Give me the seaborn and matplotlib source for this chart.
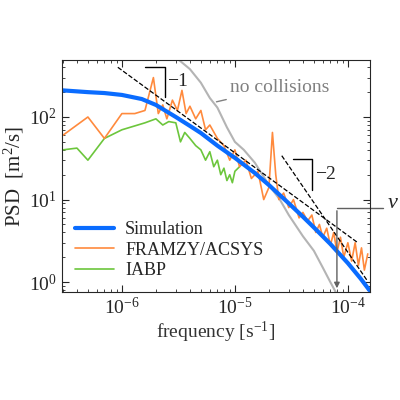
import numpy as np
import pandas as pd
import seaborn as sns
from matplotlib import pyplot as plt

sns.set_style('ticks')
plt.rcParams['font.family'] = ['Liberation Serif', 'DejaVu Serif']
plt.rcParams['mathtext.fontset'] = 'custom'
plt.rcParams['mathtext.rm'] = 'Liberation Serif'
plt.rcParams['mathtext.it'] = 'Liberation Serif:italic'

# Simulation
simFreq = [3e-7, 5e-7, 7e-7, 1e-6, 1.5e-6, 2e-6, 3e-6, 4e-6, 5e-6, 7e-6, 1e-5, 1.5e-5, 2e-5, 3e-5, 4e-5,
           5e-5, 7e-5, 1e-4, 1.3e-4, 1.55e-4]
simPsd = [210, 200, 195, 185, 165, 140, 100, 78, 64, 45, 32, 21, 15, 9, 6.2, 4.6, 2.9, 1.7, 1.1, 0.8]

# FRAMZY/ACSYS
frFreq = [3e-7, 5e-7, 7e-7, 1e-6, 1.3e-6, 1.6e-6, 1.9e-6, 2.1e-6, 2.3e-6, 2.5e-6, 2.8e-6, 3.1e-6, 3.4e-6,
          3.7e-6, 4e-6, 4.5e-6, 5e-6, 5.5e-6, 6e-6, 7e-6, 8e-6, 9e-6, 1e-5, 1.1e-5, 1.25e-5, 1.4e-5,
          1.6e-5, 1.8e-5, 2e-5, 2.15e-5, 2.3e-5, 2.45e-5, 2.7e-5, 3e-5, 3.3e-5, 3.7e-5, 4e-5, 4.4e-5,
          4.8e-5, 5.2e-5, 5.6e-5, 6e-5, 6.5e-5, 7e-5, 7.5e-5, 8e-5, 8.6e-5, 9.2e-5, 1e-4, 1.08e-4,
          1.16e-4, 1.24e-4, 1.32e-4, 1.4e-4, 1.5e-4]
frPsd = [60, 100, 55, 110, 110, 120, 300, 110, 140, 95, 160, 120, 210, 110, 135, 95, 120, 70, 80, 55,
         45, 30, 40, 25, 30, 18, 22, 10, 14, 65, 20, 10, 12, 8, 10, 6, 7, 5.5, 6.5, 4, 5, 3.5, 4.5, 2.8,
         4, 2.3, 3.5, 2, 3, 1.8, 3, 1.6, 2.6, 1.4, 2.2]

# IABP
ibFreq = [3e-7, 4e-7, 5e-7, 7e-7, 1e-6, 1.3e-6, 1.6e-6, 2e-6, 2.3e-6, 2.6e-6, 3e-6, 3.3e-6, 3.6e-6,
          4e-6, 4.5e-6, 5e-6, 5.5e-6, 6e-6, 6.5e-6, 7e-6, 7.5e-6, 8e-6, 8.5e-6, 9e-6, 9.5e-6, 1e-5, 1.1e-5]
ibPsd = [40, 42, 30, 55, 70, 78, 85, 95, 80, 88, 85, 50, 65, 55, 45, 40, 30, 38, 25, 30, 20, 24, 17, 20,
         16, 22, 25]

# no collisions
ncFreq = [3.2e-6, 4e-6, 5e-6, 6e-6, 7e-6, 8.5e-6, 1e-5, 1.2e-5, 1.5e-5, 2e-5, 2.5e-5, 3e-5, 4e-5, 5e-5,
          6e-5, 7e-5, 7.8e-5]
ncPsd = [490, 380, 260, 170, 130, 75, 50, 40, 28, 15, 10, 6.5, 3.6, 2.4, 1.5, 1.0, 0.76]

# slope guides
slope1Freq = [9.2e-7, 1.2e-4]
slope1Psd = [400, 400 * 9.2e-7 / 1.2e-4]
slope2Freq = [2.6e-5, 1.5e-4]
slope2Psd = [34, 34 * (2.6e-5 / 1.5e-4) ** 2]

fig = plt.figure(figsize=(4, 4), dpi=100)
ax = fig.add_axes([0.155, 0.27, 0.77, 0.58])

sns.lineplot(x=ncFreq, y=ncPsd, ax=ax, color='#b4b4b4', lw=1.5)
sns.lineplot(x=ibFreq, y=ibPsd, ax=ax, color='#6cc63c', lw=1.2, label='IABP')
sns.lineplot(x=frFreq, y=frPsd, ax=ax, color='#ff8a3d', lw=1.2, label='FRAMZY/ACSYS')
sns.lineplot(x=simFreq, y=simPsd, ax=ax, color='#0a6cff', lw=3, label='Simulation')
ax.plot(slope1Freq, slope1Psd, 'k--', lw=0.9)
ax.plot(slope2Freq, slope2Psd, 'k--', lw=0.9)

ax.set_xscale('log')
ax.set_yscale('log')
ax.set_xlim(2.95e-7, 1.57e-4)
ax.set_ylim(0.76, 490)

# slope markers
ax.plot([1.6e-6, 2.4e-6, 2.4e-6], [400, 400, 175], 'k-', lw=1)
ax.text(2.5e-6, 270, r'$-1$', fontsize=14, va='center')
ax.plot([3.3e-5, 4.8e-5, 4.8e-5], [31, 31, 13], 'k-', lw=1)
ax.text(5.1e-5, 20, r'$-2$', fontsize=14, va='center')

ax.annotate('no collisions', xy=(6.5e-6, 150), xytext=(9e-6, 230), color='#808080', fontsize=14,
            va='center', arrowprops=dict(arrowstyle='-', color='#808080', lw=1))
ax.annotate('', xy=(8e-5, 0.78), xytext=(8e-5, 7.9),
            arrowprops=dict(arrowstyle='-|>', color='#606060', lw=1, mutation_scale=8))
ax.plot([8e-5, 2.05e-4], [7.9, 7.9], color='#606060', lw=1, clip_on=False)
ax.text(2.2e-4, 9.0, r'$\nu$', fontsize=16, va='center')

ax.tick_params(which='both', direction='in', top=True, right=True, labelsize=14)
ax.tick_params(which='major', length=5)
ax.tick_params(which='minor', length=2.5)
ax.set_xlabel('frequency [s$^{-1}$]', fontsize=14, color='#333333', labelpad=1)
ax.set_ylabel('PSD  [m$^2$/s]', fontsize=15, labelpad=2)

handles, labels = ax.get_legend_handles_labels()
order = [labels.index(n) for n in ['Simulation', 'FRAMZY/ACSYS', 'IABP']]
ax.legend([handles[i] for i in order], [labels[i] for i in order], loc='lower left', frameon=False,
          fontsize=13, handlelength=2.2, borderpad=0.2, labelspacing=0.2, handletextpad=0.6)

plt.savefig('out.png', dpi=100)
